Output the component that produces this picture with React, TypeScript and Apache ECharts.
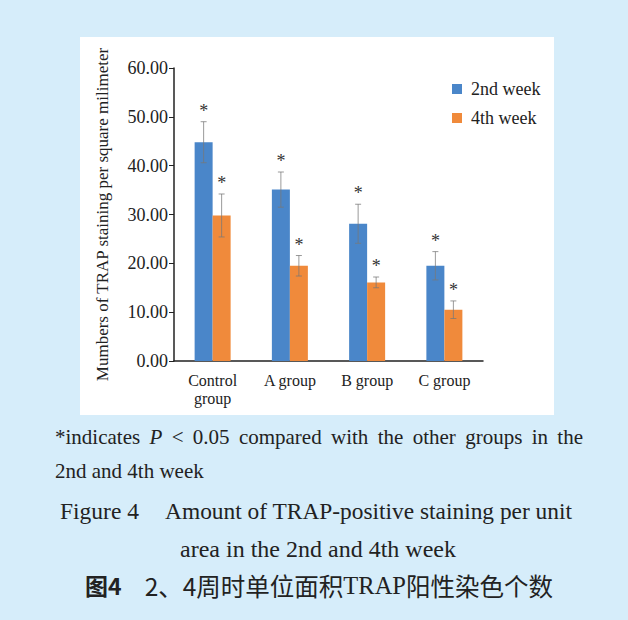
import React, { useEffect, useRef } from "react";
import * as echarts from "echarts";

const categories = ["Control\ngroup", "A group", "B group", "C group"];
const week2 = [44.8, 35.1, 28.1, 19.5];
const week2Err = [4.2, 3.6, 4.0, 2.9];
const week4 = [29.8, 19.5, 16.1, 10.5];
const week4Err = [4.4, 2.1, 1.1, 1.8];
const seriesNames = ["2nd week", "4th week"];
const yTicks = { min: 0, max: 60, interval: 10 };
const yAxisName = "Mumbers of TRAP staining per square milimeter";
const note1Words = ["*indicates", "P", "<", "0.05", "compared", "with", "the", "other", "groups", "in", "the"];
const note2 = "2nd and 4th week";
const figEn1a = "Figure 4";
const figEn1b = "Amount of TRAP-positive staining per unit";
const figEn2 = "area in the 2nd and 4th week";
const figZhLabel = "图4";
const figZhText = ["2、4周时单位面积", "TRAP", "阳性染色个数"];

const SERIF = "Liberation Serif";
const CJK = "Noto Sans CJK SC";
const BLUE = "#4a86c9";
const ORANGE = "#f08a3b";
const TXT = "#222";

function makeSeries(name: string, vals: number[], errs: number[], color: string, offset: number) {
  const data = vals.map((v, i) => [i, v, v - errs[i], v + errs[i]]);
  const errStyle = { stroke: "rgba(120,120,120,0.75)", lineWidth: 1 };
  return {
    type: "custom",
    name,
    data,
    itemStyle: { color },
    encode: { x: 0, y: 1 },
    renderItem: (params: any, api: any) => {
      const idx = api.value(0);
      const v = api.value(1);
      const lo = api.value(2);
      const hi = api.value(3);
      const base = api.coord([idx, 0]);
      const top = api.coord([idx, v]);
      const pLo = api.coord([idx, lo]);
      const pHi = api.coord([idx, hi]);
      const bw = 18;
      const cx = base[0] + offset;
      return {
        type: "group",
        children: [
          {
            type: "rect",
            shape: { x: cx - bw / 2, y: top[1], width: bw, height: base[1] - top[1] },
            style: { fill: color },
          },
          { type: "line", shape: { x1: cx, y1: pLo[1], x2: cx, y2: pHi[1] }, style: errStyle },
          { type: "line", shape: { x1: cx - 3, y1: pLo[1], x2: cx + 3, y2: pLo[1] }, style: errStyle },
          { type: "line", shape: { x1: cx - 3, y1: pHi[1], x2: cx + 3, y2: pHi[1] }, style: errStyle },
          {
            type: "text",
            style: {
              text: "*",
              x: cx,
              y: pHi[1] - 11,
              align: "center",
              verticalAlign: "middle",
              fontFamily: SERIF,
              fontSize: 18,
              fill: "#333",
            },
          },
        ],
      };
    },
  };
}

function measure(text: string, font: string): number {
  const c = document.createElement("canvas").getContext("2d")!;
  c.font = font;
  return c.measureText(text).width;
}

export default function App() {
  const ref = useRef<HTMLDivElement>(null);
  useEffect(() => {
    document.body.style.margin = "0";
    const chart = echarts.init(ref.current!, null, { renderer: "svg" });

    // justify first note line between x=55 and x=583
    const noteSize = 21;
    const widths = note1Words.map((w, i) =>
      measure(w, (i === 1 ? "italic " : "") + noteSize + "px '" + SERIF + "'")
    );
    const total = widths.reduce((a, b) => a + b, 0);
    const gap = (583 - 55 - total) / (note1Words.length - 1);
    let xc = 55;
    const noteEls: any[] = note1Words.map((w, i) => {
      const el = {
        type: "text",
        style: {
          text: w,
          x: xc,
          y: 437,
          verticalAlign: "middle",
          fontFamily: SERIF,
          fontSize: noteSize,
          fontStyle: i === 1 ? "italic" : "normal",
          fill: TXT,
        },
      };
      xc += widths[i] + gap;
      return el;
    });

    const capSize = 24;
    const zhSize = 24.5;

    chart.setOption({
      animation: false,
      backgroundColor: "#d6edfa",
      textStyle: { fontFamily: SERIF },
      graphic: [
        {
          type: "rect",
          z: -10,
          shape: { x: 80, y: 37, width: 474, height: 378 },
          style: { fill: "#ffffff" },
        },
        ...noteEls,
        {
          type: "text",
          style: { text: note2, x: 55, y: 471, verticalAlign: "middle", fontFamily: SERIF, fontSize: noteSize, fill: TXT },
        },
        {
          type: "text",
          style: { text: figEn1a, x: 60, y: 511, verticalAlign: "middle", fontFamily: SERIF, fontSize: 23.5, fill: TXT },
        },
        {
          type: "text",
          style: { text: figEn1b, x: 572, y: 511, align: "right", verticalAlign: "middle", fontFamily: SERIF, fontSize: 23.4, fill: TXT },
        },
        {
          type: "text",
          style: { text: figEn2, x: 318, y: 549, align: "center", verticalAlign: "middle", fontFamily: SERIF, fontSize: capSize, fill: TXT },
        },
        {
          type: "text",
          style: {
            text: figZhLabel,
            x: 85,
            y: 585,
            verticalAlign: "middle",
            fontFamily: CJK,
            fontWeight: "bold",
            fontSize: 23,
            fill: TXT,
          },
        },
        {
          type: "text",
          style: {
            text: "{c|" + figZhText[0] + "}{l|" + figZhText[1] + "}{c|" + figZhText[2] + "}",
            x: 553,
            y: 585,
            align: "right",
            verticalAlign: "middle",
            rich: {
              c: { fontFamily: CJK, fontSize: zhSize, fill: TXT },
              l: { fontFamily: SERIF, fontSize: zhSize, fill: TXT },
            },
          },
        },
      ],
      legend: {
        orient: "vertical",
        left: 447,
        top: 75,
        itemWidth: 10,
        itemHeight: 10,
        itemGap: 11,
        icon: "rect",
        textStyle: { fontFamily: SERIF, fontSize: 18, color: TXT, padding: [0, 0, 0, 4] },
        data: seriesNames,
      },
      grid: { left: 174, right: 145, top: 68, bottom: 259, containLabel: false },
      xAxis: {
        type: "category",
        data: categories,
        axisLine: { lineStyle: { color: TXT, width: 1.5 } },
        axisTick: { show: false },
        axisLabel: { fontFamily: SERIF, fontSize: 16, color: TXT, margin: 10, lineHeight: 18 },
      },
      yAxis: {
        type: "value",
        min: yTicks.min,
        max: yTicks.max,
        interval: yTicks.interval,
        name: yAxisName,
        nameLocation: "middle",
        nameGap: 63,
        nameRotate: 90,
        nameTextStyle: { fontFamily: SERIF, fontSize: 17, color: TXT },
        axisLine: { show: true, lineStyle: { color: TXT, width: 1.5 } },
        axisTick: { show: true, length: 5, lineStyle: { color: TXT } },
        splitLine: { show: false },
        axisLabel: {
          fontFamily: SERIF,
          fontSize: 18,
          color: TXT,
          margin: 6,
          formatter: (v: number) => v.toFixed(2),
        },
      },
      series: [
        makeSeries(seriesNames[0], week2, week2Err, BLUE, -9),
        makeSeries(seriesNames[1], week4, week4Err, ORANGE, 9),
      ],
    });
    return () => chart.dispose();
  }, []);
  return <div ref={ref} style={{ position: "absolute", left: 0, top: 0, width: 628, height: 620 }} />;
}
